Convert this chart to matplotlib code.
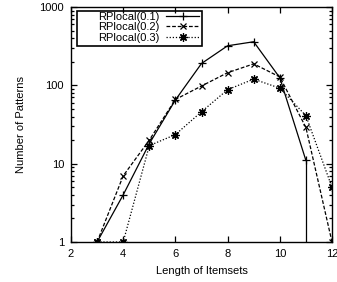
import numpy as np
import matplotlib.pyplot as plt
from matplotlib.patches import Rectangle
from matplotlib.ticker import LogLocator, NullFormatter, FixedLocator

plt.rcParams['font.family'] = ['Liberation Sans', 'DejaVu Sans']

lengths = [3, 4, 5, 6, 7, 8, 9, 10, 11, 12]
rp01 = [1, 4, 18, 65, 190, 320, 360, 125, 11, 0]
rp02 = [1, 7, 20, 66, 98, 145, 188, 128, 29, 1]
rp03 = [1, 1, 17, 23.5, 46, 88, 120, 92, 41, 5]
xticks = [2, 4, 6, 8, 10, 12]
yticks = [1, 10, 100, 1000]

fs = 8
fig = plt.figure(figsize=(3.37, 2.82), dpi=100)
ax = fig.add_axes([71/337, 1-242/282, (332-71)/337, (242-7)/282])

# first series drops to zero at the last length -> gnuplot draws impulse to bottom
x1 = [x for x, y in zip(lengths, rp01) if y > 0]
y1 = [y for y in rp01 if y > 0]
ax.plot(x1, y1, color='black', lw=0.9, marker='+', ms=6, mew=0.9, label='RPlocal(0.1)')
ax.vlines(x1[-1], 1, y1[-1], color='black', lw=0.9)
ax.plot(lengths, rp02, color='black', lw=0.9, ls=(0, (3, 1.5)), marker='x', ms=5, mew=0.9,
        label='RPlocal(0.2)')
ax.plot(lengths, rp03, color='black', lw=0.9, ls=(0, (1, 1.5)), marker=(8, 2, 0), ms=6, mew=0.9,
        label='RPlocal(0.3)')

ax.set_yscale('log')
ax.set_xlim(2, 12)
ax.set_ylim(1, 1000)
ax.xaxis.set_major_locator(FixedLocator(xticks))
ax.yaxis.set_major_locator(FixedLocator(yticks))
ax.set_yticklabels([str(t) for t in yticks])
ax.yaxis.set_minor_locator(LogLocator(base=10, subs=np.arange(2, 10)))
ax.yaxis.set_minor_formatter(NullFormatter())
ax.tick_params(which='both', direction='in', top=True, right=True, labelsize=fs, width=0.9, pad=5)
ax.tick_params(which='major', length=4)
ax.tick_params(which='minor', length=2)
for s in ax.spines.values():
    s.set_linewidth(1.0)

ax.set_xlabel('Length of Itemsets', fontsize=fs, labelpad=5)
ax.set_ylabel('Number of Patterns', fontsize=fs, labelpad=10)

# gnuplot-style key: right-aligned text, sample to the right, wide box
leg = ax.legend(loc='upper right', markerfirst=False, fontsize=fs, frameon=False,
                borderpad=0.2, labelspacing=0.05, handlelength=3.0, handletextpad=0.55,
                borderaxespad=0.0, bbox_to_anchor=(0.5, 0.99))
for t in leg.get_texts():
    t.set_ha('right')
ax.add_patch(Rectangle((0.023, 0.835), 0.48, 0.148, transform=ax.transAxes, fill=False,
                       edgecolor='black', lw=1.2, zorder=5))

fig.savefig('out.png', dpi=100)
